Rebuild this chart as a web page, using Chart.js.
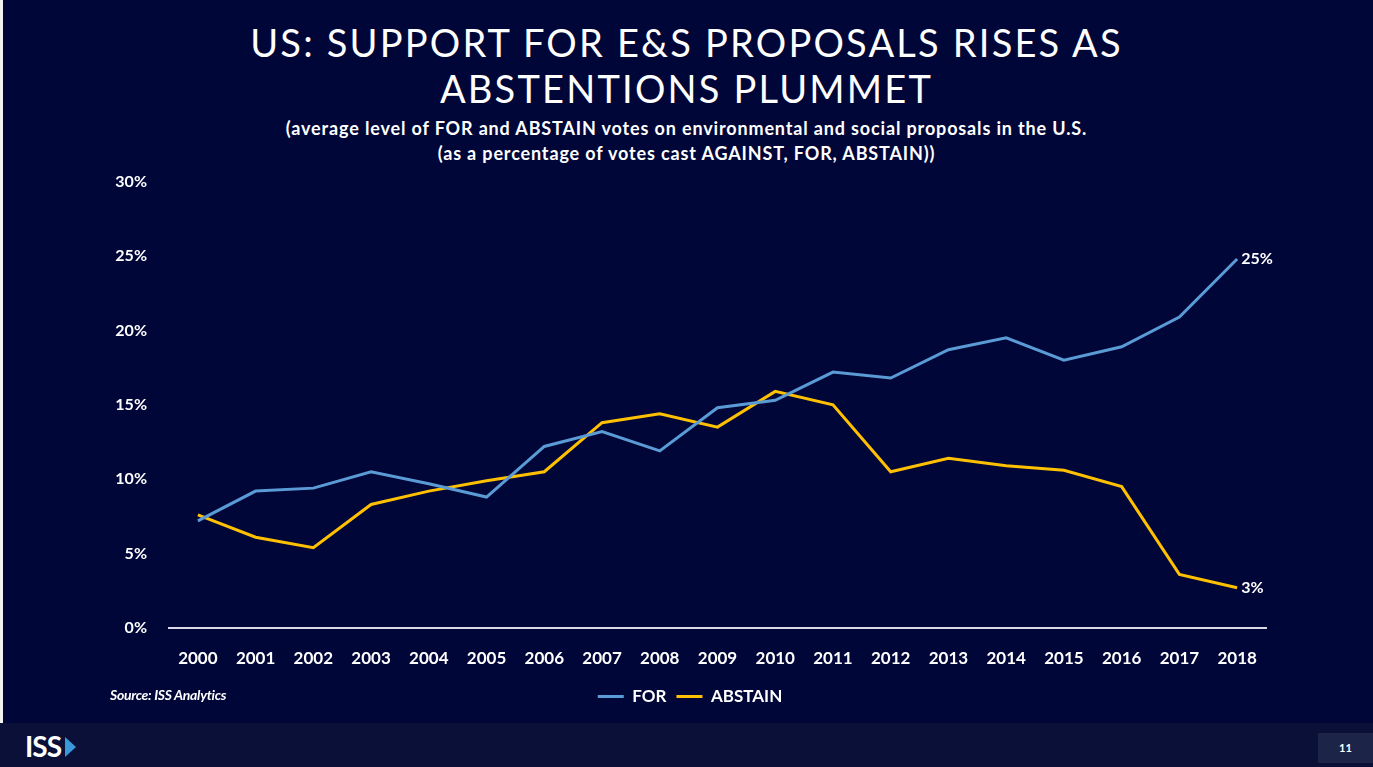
<!DOCTYPE html>
<html>
<head>
<meta charset="utf-8">
<script src="https://cdn.jsdelivr.net/npm/chart.js@4"></script>
<style>
  html, body { margin: 0; padding: 0; }
  body { width: 1373px; height: 767px; background: #000638; position: relative; overflow: hidden; font-family: Lato, "Open Sans", sans-serif; color: #fff; }
  #edge { position: absolute; left: 0; top: 0; width: 3px; height: 723px; background: #f2f2f2; }
  #title { position: absolute; top: 19px; left: 0; width: 1373px; text-align: center; font-size: 38px; line-height: 46px; letter-spacing: 2.2px; font-weight: 400; }
  #subtitle { position: absolute; top: 116px; left: 0; width: 1373px; text-align: center; font-size: 18px; line-height: 25px; letter-spacing: 0.85px; font-weight: 700; }
  #wrap { position: absolute; top: 150px; left: 0; width: 1373px; height: 573px; }
  #source { position: absolute; left: 110px; top: 686px; font-size: 14px; font-style: italic; font-weight: 700; letter-spacing: -0.3px; }
  #footer { position: absolute; left: 0; top: 723px; width: 1373px; height: 44px; background: #0a1038; }
  #logo { position: absolute; left: 25px; top: 6px; font-size: 28px; font-weight: 700; letter-spacing: -1px; }
  #logo span { display: inline-block; width: 0; height: 0; border-top: 10px solid transparent; border-bottom: 10px solid transparent; border-left: 11px solid #3a9ad9; margin-left: 4px; }
  #page { position: absolute; right: 0; top: 10px; width: 55px; height: 30px; background: #1c2448; font-size: 11px; font-weight: 700; text-align: center; line-height: 30px; }
</style>
</head>
<body>
<div id="edge"></div>
<div id="title">US: SUPPORT FOR E&amp;S PROPOSALS RISES AS<br>ABSTENTIONS PLUMMET</div>
<div id="subtitle">(average level of FOR and ABSTAIN votes on environmental and social proposals in the U.S.<br>(as a percentage of votes cast AGAINST, FOR, ABSTAIN))</div>
<div id="wrap"><canvas id="chart"></canvas></div>
<div id="source">Source: ISS Analytics</div>
<div id="footer">
  <div id="logo">ISS<span></span></div>
  <div id="page">11</div>
</div>
<script>
const years = ["2000", "2001", "2002", "2003", "2004", "2005", "2006", "2007", "2008", "2009",
               "2010", "2011", "2012", "2013", "2014", "2015", "2016", "2017", "2018"];
const forVotes = [7.2, 9.2, 9.4, 10.5, 9.7, 8.8, 12.2, 13.2, 11.9, 14.8,
                  15.3, 17.2, 16.8, 18.7, 19.5, 18.0, 18.9, 20.9, 24.8];
const abstainVotes = [7.6, 6.1, 5.4, 8.3, 9.2, 9.9, 10.5, 13.8, 14.4, 13.5,
                      15.9, 15.0, 10.5, 11.4, 10.9, 10.6, 9.5, 3.6, 2.7];
const yTicks = [0, 5, 10, 15, 20, 25, 30];

const tickFont = { family: "Lato", size: 16, weight: "bold" };

// label on the last point of each line, like the Excel data labels
const endLabels = {
  id: "endLabels",
  afterDatasetsDraw(chart) {
    const ctx = chart.ctx;
    ctx.save();
    ctx.font = "bold 16px Lato";
    ctx.fillStyle = "#ffffff";
    ctx.textBaseline = "middle";
    chart.data.datasets.forEach((ds, i) => {
      const pts = chart.getDatasetMeta(i).data;
      const last = pts[pts.length - 1];
      const val = ds.data[ds.data.length - 1];
      ctx.fillText(Math.round(val) + "%", last.x + 4, last.y);
    });
    ctx.restore();
  }
};

new Chart(document.getElementById("chart"), {
  type: "line",
  data: {
    labels: years,
    datasets: [
      { label: "FOR", data: forVotes, borderColor: "#5b9bd5", backgroundColor: "#5b9bd5",
        borderWidth: 3, pointRadius: 0, tension: 0, pointStyle: "line" },
      { label: "ABSTAIN", data: abstainVotes, borderColor: "#ffc000", backgroundColor: "#ffc000",
        borderWidth: 3, pointRadius: 0, tension: 0, pointStyle: "line" }
    ]
  },
  options: {
    responsive: true,
    maintainAspectRatio: false,
    animation: false,
    // left/right padding chosen so the legend centres under the slide like the original
    layout: { padding: { top: 12, right: 107, bottom: 8, left: 114 } },
    plugins: {
      legend: {
        position: "bottom",
        labels: { color: "#ffffff", font: { family: "Lato", size: 17, weight: "bold" },
                  usePointStyle: true, pointStyleWidth: 26, padding: 10, boxHeight: 17 }
      },
      tooltip: { enabled: false }
    },
    scales: {
      x: {
        offset: true,
        grid: { display: false, drawTicks: false },
        border: { display: true, color: "#d8d8e6", width: 2 },
        ticks: { color: "#ffffff", font: { family: "Lato", size: 17, weight: "bold" }, padding: 20, maxRotation: 0 },
        afterFit(scale) { scale.height = 50; }
      },
      y: {
        min: 0, max: 30,
        grid: { display: false, drawTicks: false },
        border: { display: false },
        afterBuildTicks(scale) { scale.ticks = yTicks.map(v => ({ value: v })); },
        ticks: { color: "#ffffff", font: tickFont, padding: 22, callback: v => v + "%" },
        afterFit(scale) { scale.width = 55; }
      }
    }
  },
  plugins: [endLabels]
});
</script>
</body>
</html>
